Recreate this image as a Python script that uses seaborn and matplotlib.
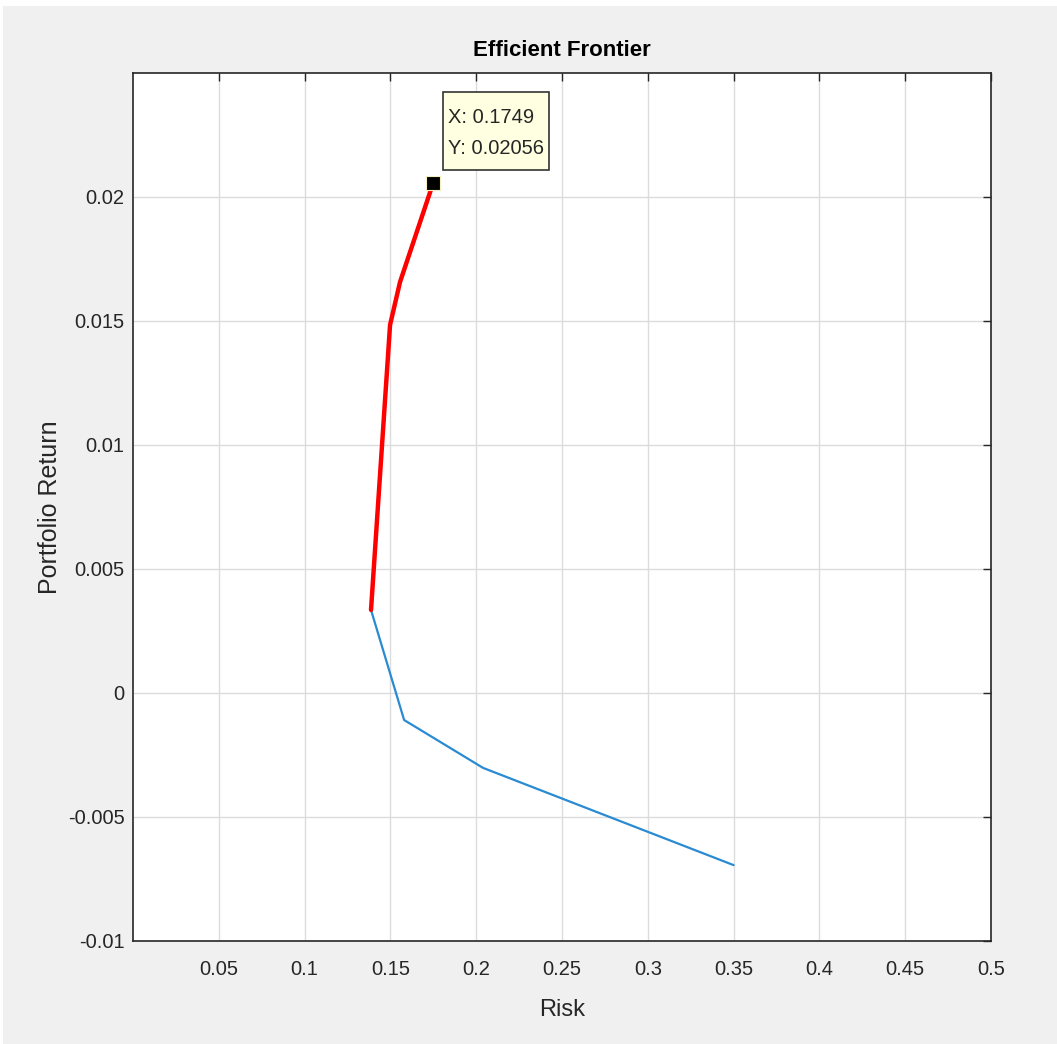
import matplotlib
matplotlib.use('Agg')
import matplotlib.pyplot as plt
import matplotlib.patches as mpatches
import matplotlib.transforms as mtransforms
import numpy as np
import pandas as pd
import seaborn as sns

# fronteira eficiente (parte de cima, em vermelho)
risco_eficiente = [0.1387, 0.1498, 0.1556, 0.1749]
retorno_eficiente = [0.00335, 0.01484, 0.01657, 0.02056]

# fronteira completa (parte de baixo, em azul)
risco_total = [0.1387, 0.158, 0.204, 0.35]
retorno_total = [0.00335, -0.00109, -0.00302, -0.00694]

ponto_x = 0.1749
ponto_y = 0.02056

xticks = [0.05, 0.1, 0.15, 0.2, 0.25, 0.3, 0.35, 0.4, 0.45, 0.5]
xtick_labels = ['0.05', '0.1', '0.15', '0.2', '0.25', '0.3', '0.35', '0.4', '0.45', '0.5']
yticks = [-0.01, -0.005, 0, 0.005, 0.01, 0.015, 0.02]
ytick_labels = ['-0.01', '-0.005', '0', '0.005', '0.01', '0.015', '0.02']

sns.set_style('white')
plt.rcParams['font.family'] = ['Liberation Sans', 'DejaVu Sans']

fig = plt.figure(figsize=(10.57, 10.44), dpi=100, facecolor='white')
fig.patches.append(mpatches.Rectangle((3 / 1057, 0), 1, 1 - 6 / 1044, transform=fig.transFigure,
                                      facecolor='#f0f0f0', edgecolor='none', zorder=-10))
ax = fig.add_axes([133 / 1057, 1 - 941 / 1044, 858 / 1057, 868 / 1044])
ax.set_facecolor('white')

df_total = pd.DataFrame({'risk': risco_total, 'ret': retorno_total})
df_efic = pd.DataFrame({'risk': risco_eficiente, 'ret': retorno_eficiente})

sns.lineplot(data=df_total, x='risk', y='ret', sort=False, color='#2a8ad2', linewidth=1.6, ax=ax, zorder=3)
sns.lineplot(data=df_efic, x='risk', y='ret', sort=False, color='#ff0000', linewidth=3.2, ax=ax, zorder=4)

ax.set_xlim(0, 0.5)
ax.set_ylim(-0.01, 0.025)

# marcador do datatip
ax.plot([ponto_x], [ponto_y], marker='s', markersize=9.5, color='black',
        markeredgecolor='#f5f0c0', markeredgewidth=0.8, zorder=6)

# caixa do datatip (em pixels, a partir do ponto)
px, py = ax.transData.transform((ponto_x, ponto_y))
caixa = mpatches.Rectangle((10, 13), 106, 78, transform=mtransforms.Affine2D().translate(px, py),
                           facecolor='#ffffe1', edgecolor='#333333', linewidth=1.2, zorder=7, clip_on=False)
ax.add_artist(caixa)
ax.annotate(f'X: {ponto_x}', xy=(ponto_x, ponto_y), xytext=(15, 66), textcoords='offset pixels',
            ha='left', va='center', fontsize=14.5, color='#262626', zorder=8)
ax.annotate(f'Y: {ponto_y}', xy=(ponto_x, ponto_y), xytext=(15, 35), textcoords='offset pixels',
            ha='left', va='center', fontsize=14.5, color='#262626', zorder=8)

ax.set_xticks(xticks)
ax.set_xticklabels(xtick_labels)
ax.set_yticks(yticks)
ax.set_yticklabels(ytick_labels)
ax.grid(True, color='#dcdcdc', linewidth=1)
ax.set_axisbelow(True)

ax.tick_params(direction='in', length=6, width=1, color='#262626', labelsize=14.5,
               labelcolor='#262626', top=True, right=True)
ax.tick_params(axis='x', pad=14)
ax.tick_params(axis='y', pad=6)
for s in ax.spines.values():
    s.set_color('#262626')
    s.set_linewidth(1.2)
    s.set_visible(True)

ax.set_xlabel('Risk', fontsize=17, color='#262626', labelpad=14)
ax.set_ylabel('Portfolio Return', fontsize=18, color='#262626', labelpad=4)
ax.set_title('Efficient Frontier', fontsize=16, fontweight='bold', color='black', pad=12)

fig.savefig('out.png', dpi=100, facecolor=fig.get_facecolor())
